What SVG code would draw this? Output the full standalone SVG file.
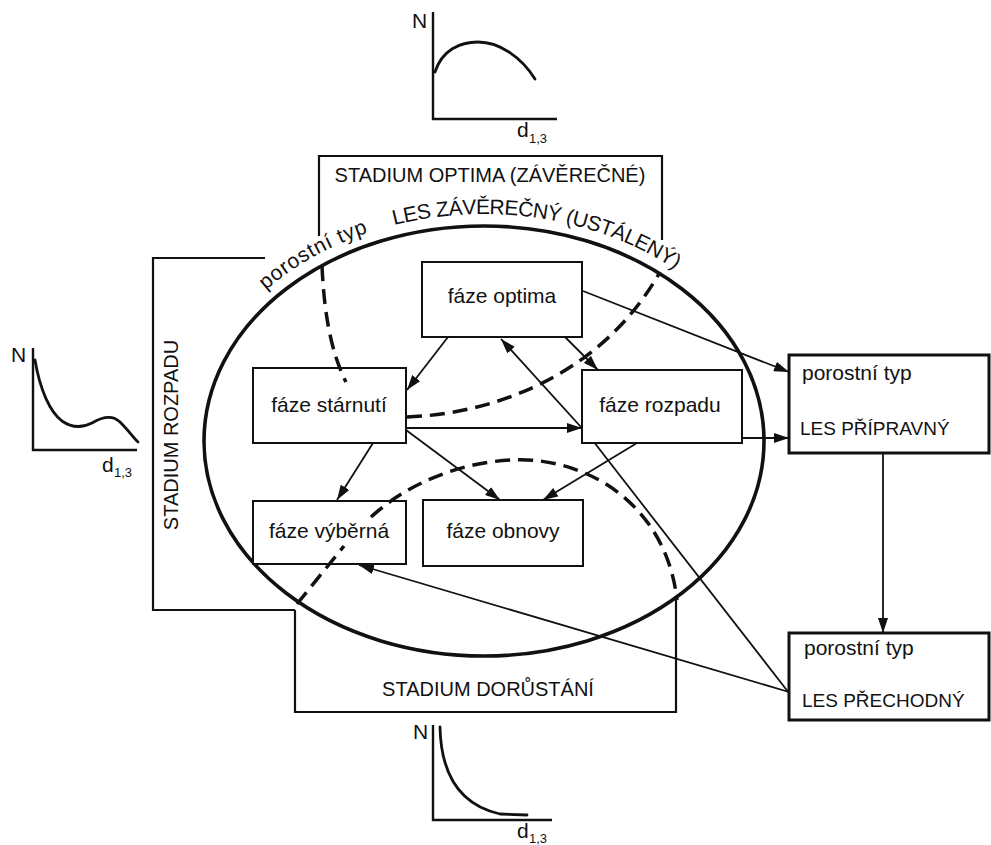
<svg xmlns="http://www.w3.org/2000/svg" width="991" height="845" viewBox="0 0 991 845">
  <style>
    text { font-family: "Liberation Sans", Arial, sans-serif; fill: #111; }
    .lbl { font-size: 21px; }
    .cap { font-size: 20px; }
    .box { fill: #fff; stroke: #111; stroke-width: 2; }
    .bigbox { fill: #fff; stroke: #111; stroke-width: 3; }
    .frame { fill: none; stroke: #111; stroke-width: 2.2; }
    .forest { fill: none; stroke: #111; stroke-width: 3.6; }
    .dash { fill: none; stroke: #111; stroke-width: 3.5; stroke-dasharray: 15 8; }
    .edge { fill: none; stroke: #111; stroke-width: 1.8; marker-end: url(#arrow); }
    .axis { fill: none; stroke: #111; stroke-width: 2.4; }
    .curve { fill: none; stroke: #111; stroke-width: 2.8; stroke-linecap: round; }
    .sub { font-size: 13px; }
  </style>
  <defs>
    <marker id="arrow" markerUnits="userSpaceOnUse" markerWidth="15" markerHeight="10" refX="15" refY="5" orient="auto">
      <path d="M0,0 L15,5 L0,10 Z" fill="#111"/>
    </marker>
    <!-- baseline arc for the labels written round the forest ellipse -->
    <path id="arcLabel" d="M192,441 A292,227 0 0 1 776,441"/>
  </defs>

  <rect width="991" height="845" fill="#fff"/>

  <!-- diameter distribution sketches -->
  <g id="graph-optimum">
    <path class="axis" d="M433,12 L433,119 L557,119"/>
    <path class="curve" d="M435,72 C442,50 460,42 478,42 C500,42 522,58 535,79"/>
    <text x="412" y="28" class="lbl">N</text>
    <text x="517" y="137" class="lbl">d</text><text x="529" y="143" class="sub">1,3</text>
  </g>
  <g id="graph-decay">
    <path class="axis" d="M33,348 L33,450 L137,450"/>
    <path class="curve" d="M35,360 C40,390 50,412 62,421 C72,428 82,428 92,423 C102,417 112,414 120,422 C128,430 133,437 138,442"/>
    <text x="11" y="362" class="lbl">N</text>
    <text x="102" y="472" class="lbl">d</text><text x="114" y="477" class="sub">1,3</text>
  </g>
  <g id="graph-growth">
    <path class="axis" d="M433,725 L433,820 L552,820"/>
    <path class="curve" d="M440,727 C441,775 460,805 500,814 L527,815"/>
    <text x="413" y="739" class="lbl">N</text>
    <text x="517" y="838" class="lbl">d</text><text x="529" y="843" class="sub">1,3</text>
  </g>

  <!-- stage frames -->
  <g id="stage-optimum">
    <path class="frame" d="M319,236 L319,156 L662,156 L662,240"/>
    <text x="490" y="182" class="cap" text-anchor="middle">STADIUM OPTIMA (ZÁVĚREČNÉ)</text>
  </g>
  <g id="stage-decay">
    <path class="frame" d="M265,258 L153,258 L153,610 L295,610"/>
    <text transform="translate(178,435) rotate(-90)" class="cap" text-anchor="middle">STADIUM ROZPADU</text>
  </g>
  <g id="stage-growth">
    <path class="frame" d="M295,610 L295,712 L676,712 L676,600"/>
    <text x="488" y="696" class="cap" text-anchor="middle">STADIUM DORŮSTÁNÍ</text>
  </g>

  <!-- thin transition arrows -->
  <g id="connectors">
    <path class="edge" d="M789,693 L590,437 L501,339"/>
    <path class="edge" d="M448,337 L407,390"/>
    <path class="edge" d="M565,337 L598,370"/>
    <path class="edge" d="M406,428 L582,428"/>
    <path class="edge" d="M406,430 L500,500"/>
    <path class="edge" d="M373,443 L337,500"/>
    <path class="edge" d="M637,443 L543,500"/>
    <path class="edge" d="M583,291 L789,372"/>
    <path class="edge" d="M742,438 L789,438"/>
    <path class="edge" d="M789,692 L359,565"/>
    <path class="edge" d="M883,453 L883,633"/>
  </g>

  <!-- climax forest ellipse -->
  <g id="forest-climax">
    <ellipse class="forest" cx="484" cy="441" rx="280" ry="215"/>
    <text class="lbl"><textPath href="#arcLabel" startOffset="173" textLength="118" lengthAdjust="spacing">porostní typ</textPath></text>
    <text class="lbl"><textPath href="#arcLabel" startOffset="318" textLength="293" lengthAdjust="spacing">LES ZÁVĚREČNÝ (USTÁLENÝ)</textPath></text>
  </g>

  <!-- development phases -->
  <g id="phase-optimum">
    <rect class="box" x="422" y="262" width="160" height="75"/>
    <text x="502" y="303" class="lbl" text-anchor="middle">fáze optima</text>
  </g>
  <g id="phase-ageing">
    <rect class="box" x="253" y="368" width="153" height="75"/>
    <text x="329" y="412" class="lbl" text-anchor="middle">fáze stárnutí</text>
  </g>
  <g id="phase-decay">
    <rect class="box" x="582" y="370" width="160" height="73"/>
    <text x="660" y="412" class="lbl" text-anchor="middle">fáze rozpadu</text>
  </g>
  <g id="phase-selection">
    <rect class="box" x="253" y="501" width="153" height="63"/>
    <text x="329" y="538" class="lbl" text-anchor="middle">fáze výběrná</text>
  </g>
  <g id="phase-renewal">
    <rect class="box" x="423" y="500" width="160" height="66"/>
    <text x="503" y="538" class="lbl" text-anchor="middle">fáze obnovy</text>
  </g>

  <!-- other forest types -->
  <g id="forest-preparatory">
    <rect class="bigbox" x="789" y="355" width="200" height="98"/>
    <text x="802" y="380" class="lbl">porostní typ</text>
    <text x="800" y="435" class="cap" style="font-size:19px">LES PŘÍPRAVNÝ</text>
  </g>
  <g id="forest-transitional">
    <rect class="bigbox" x="789" y="633" width="200" height="87"/>
    <text x="804" y="655" class="lbl">porostní typ</text>
    <text x="802" y="707" class="cap" style="font-size:19px">LES PŘECHODNÝ</text>
  </g>

  <!-- dashed boundaries of the stages inside the forest -->
  <g id="stage-boundaries">
    <path class="dash" d="M322,266 C324,310 330,350 346,382"/>
    <path class="dash" d="M407,417 C490,414 600,378 660,272"/>
    <path class="dash" d="M297,604 L344,546"/>
    <path class="dash" d="M371,517 C420,472 490,455 540,461 C610,470 668,520 677,600"/>
  </g>
</svg>
